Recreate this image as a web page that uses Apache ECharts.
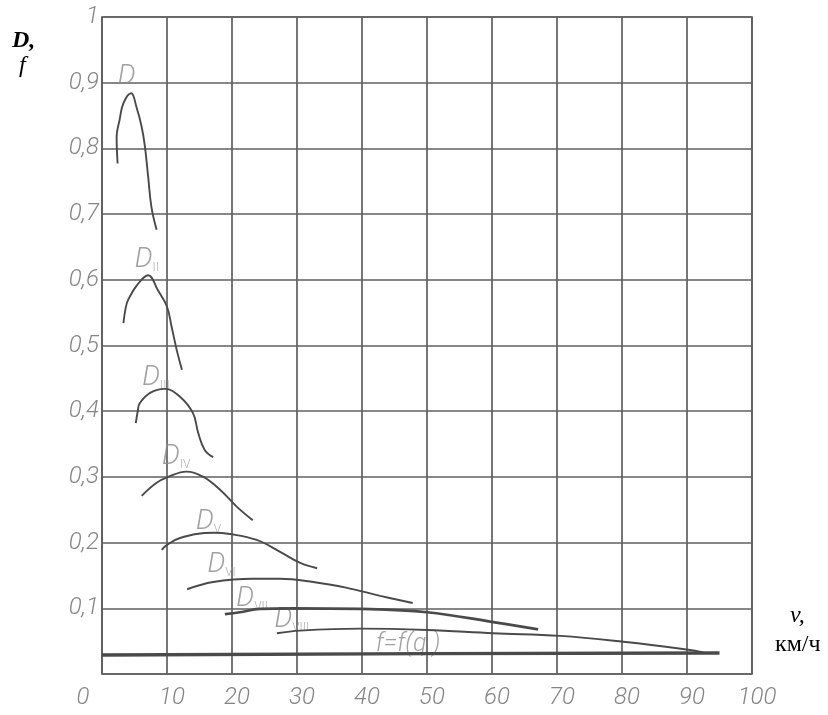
<!DOCTYPE html>
<html>
<head>
<meta charset="utf-8">
<script src="https://cdn.jsdelivr.net/npm/echarts@6/dist/echarts.min.js"></script>
<style>
  html, body { margin: 0; padding: 0; background: #fff; }
  #chart { width: 828px; height: 715px; }
</style>
</head>
<body>
<div id="chart"></div>
<script>
// speed v, km/h -> dynamic factor D for each gear
const gearI = [[2.4, 0.777], [2.25, 0.818], [2.7, 0.843], [3.3, 0.869], [4.5, 0.884], [5.3, 0.863], [6.1, 0.833], [6.6, 0.803], [7.1, 0.757], [7.6, 0.711], [8.4, 0.676]];
const gearII = [[3.3, 0.534], [3.6, 0.555], [4.0, 0.569], [5.4, 0.592], [7.1, 0.607], [8.6, 0.584], [10.0, 0.559], [10.7, 0.529], [11.5, 0.493], [12.3, 0.463]];
const gearIII = [[5.2, 0.382], [5.5, 0.400], [5.8, 0.412], [7.4, 0.428], [9.7, 0.434], [12.0, 0.422], [14.0, 0.397], [14.8, 0.367], [15.8, 0.341], [17.1, 0.330]];
const gearIV = [[6.1, 0.271], [8.4, 0.291], [10.2, 0.300], [13.0, 0.308], [15.6, 0.300], [18.2, 0.280], [20.8, 0.254], [23.2, 0.234]];
const gearV = [[9.2, 0.189], [9.8, 0.195], [12.0, 0.207], [17.1, 0.215], [19.7, 0.213], [23.8, 0.204], [27.4, 0.186], [30.5, 0.169], [33.1, 0.161]];
const gearVI = [[13.1, 0.129], [17.1, 0.140], [23.2, 0.145], [27.4, 0.145], [32.5, 0.140], [37.7, 0.131], [42.8, 0.119], [47.8, 0.108]];
const gearVII = [[18.9, 0.091], [21.2, 0.094], [24.3, 0.099], [29.4, 0.100], [39.7, 0.099], [50.0, 0.094], [60.2, 0.079], [67.1, 0.068]];
const gearVIII = [[26.9, 0.062], [30.5, 0.066], [39.7, 0.069], [50.0, 0.067], [60.2, 0.062], [70.5, 0.058], [80.2, 0.049], [90.2, 0.037], [92.5, 0.033]];
const rolling = [[0, 0.029], [50, 0.031], [95, 0.032]];

// curve captions: [v, D, subscript]
const captions = [[3.8, 0.909, ''], [6.9, 0.63, 'II'], [8.3, 0.45, 'III'], [11.4, 0.33, 'IV'], [16.4, 0.231, 'V'], [18.4, 0.166, 'VI'], [23.1, 0.114, 'VII'], [29.2, 0.082, 'VIII']];
const fCaption = [47.1, 0.044, 'f=f(q )'];

const gridColor = '#5f5f5f';
const curveColor = '#4a4a4a';
const tickFont = 'Roboto';

const chart = echarts.init(document.getElementById('chart'));

const curve = (data, width) => ({
  type: 'line',
  data: data,
  smooth: 0.4,
  showSymbol: false,
  silent: true,
  lineStyle: { color: curveColor, width: width || 1.9 }
});

var option = {
  animation: false,
  backgroundColor: '#fff',
  grid: {
    left: 102, right: 76, top: 17, bottom: 41,
    show: true, borderColor: gridColor, borderWidth: 1.7
  },
  xAxis: {
    type: 'value',
    min: 0, max: 100, interval: 10,
    axisLine: { show: false },
    axisTick: { show: false },
    splitLine: { lineStyle: { color: gridColor, width: 1.7 } },
    axisLabel: {
      margin: 12,
      color: '#858585',
      fontFamily: tickFont,
      fontWeight: 300,
      fontStyle: 'italic',
      fontSize: 24,
      padding: [0, 0, 0, 10],
      formatter: (v) => v === 0 ? '{z|0}' : String(v),
      rich: {
        z: { color: '#858585', fontFamily: tickFont, fontWeight: 300, fontStyle: 'italic', fontSize: 24, padding: [0, 48, 0, 0] }
      }
    }
  },
  yAxis: {
    type: 'value',
    min: 0, max: 1, interval: 0.1,
    axisLine: { show: false },
    axisTick: { show: false },
    splitLine: { lineStyle: { color: gridColor, width: 1.7 } },
    axisLabel: {
      margin: 3,
      color: '#858585',
      fontFamily: tickFont,
      fontWeight: 300,
      fontStyle: 'italic',
      fontSize: 24,
      padding: [10, 0, 0, 0],
      formatter: (v) => {
        if (v === 0) return '';
        if (Math.abs(v - 1) < 1e-6) return '1';
        return v.toFixed(1).replace('.', ',');
      }
    }
  },
  series: [
    curve(gearI),
    curve(gearII),
    curve(gearIII),
    curve(gearIV),
    curve(gearV),
    curve(gearVI),
    curve(gearVII, 2.7),
    curve(gearVIII),
    {
      type: 'line',
      data: rolling,
      showSymbol: false,
      silent: true,
      lineStyle: { color: '#4a4a4a', width: 3.4 }
    },
    {
      type: 'scatter',
      symbolSize: 0,
      silent: true,
      data: captions.map(c => ({ value: [c[0], c[1]], sub: c[2] })),
      label: {
        show: true,
        position: 'inside',
        formatter: (p) => p.data.sub ? '{d|D}{s|' + p.data.sub + '}' : '{d|D}',
        rich: {
          d: { color: '#8a8a8a', fontFamily: tickFont, fontWeight: 300, fontStyle: 'italic', fontSize: 28, verticalAlign: 'bottom' },
          s: { color: '#999', fontFamily: tickFont, fontWeight: 300, fontSize: 12, verticalAlign: 'bottom' }
        }
      }
    },
    {
      type: 'scatter',
      symbolSize: 0,
      silent: true,
      data: [[fCaption[0], fCaption[1]]],
      label: {
        show: true,
        position: 'inside',
        formatter: fCaption[2],
        color: '#8a8a8a',
        fontFamily: tickFont,
        fontWeight: 300,
        fontStyle: 'italic',
        fontSize: 25
      }
    }
  ],
  graphic: [
    { type: 'text', left: 12, top: 29, style: { text: 'D,', font: 'italic bold 24px "Liberation Serif"', fill: '#000' } },
    { type: 'text', left: 19, top: 54, style: { text: 'f', font: 'italic 24px "Liberation Serif"', fill: '#000' } },
    { type: 'text', left: 790, top: 604, style: { text: 'v,', font: 'italic 24px "Liberation Serif"', fill: '#000' } },
    { type: 'text', left: 775, top: 633, style: { text: 'км/ч', font: '24px "Liberation Serif"', fill: '#000' } }
  ]
};

chart.setOption(option);
</script>
</body>
</html>
